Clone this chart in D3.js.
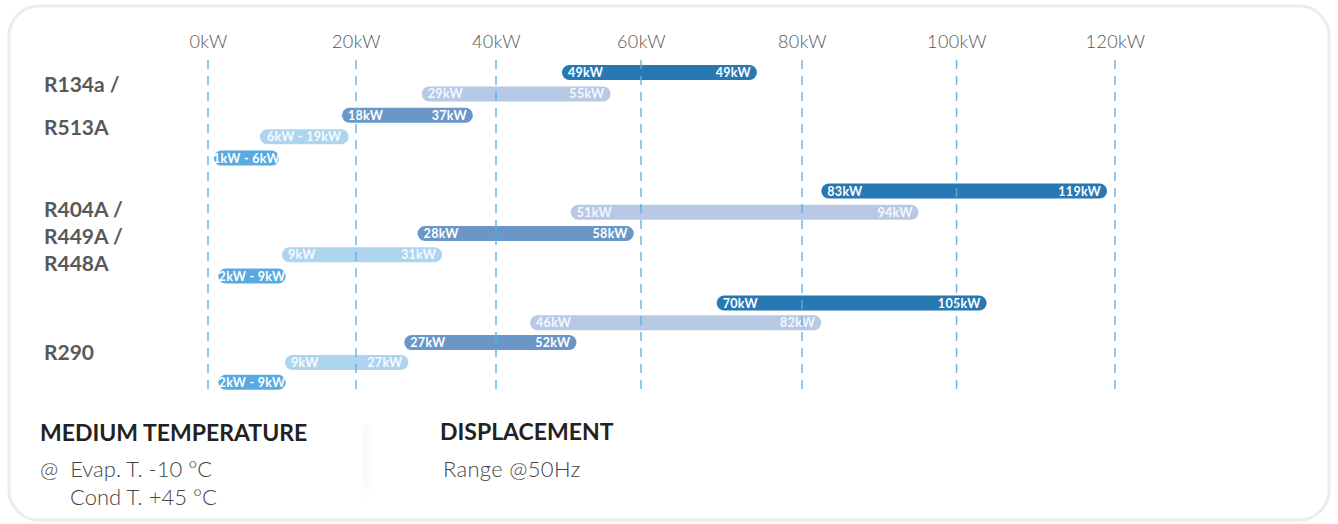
<!DOCTYPE html>
<html>
<head>
<meta charset="utf-8">
<script src="https://cdn.jsdelivr.net/npm/d3@7"></script>
<style>
  html, body { margin: 0; padding: 0; background: #ffffff; }
  svg { display: block; }
</style>
</head>
<body>
<svg id="chart" width="1338" height="524"></svg>
<script>
// ---------- DATA ----------
const tickValues = [0, 20, 40, 60, 80, 100, 120];
const tickLabels = ["0kW", "20kW", "40kW", "60kW", "80kW", "100kW", "120kW"];

const groupNames = ["R134a / R513A", "R404A / R449A / R448A", "R290"];
const groupLabelLines = [["R134a /", "R513A"], ["R404A /", "R449A /", "R448A"], ["R290"]];

// bar extents (kW, read against the axis)
const r134aStart = [49.1, 29.4, 18.1, 7.0, 0.8];
const r134aEnd   = [74.4, 55.8, 36.7, 19.0, 9.6];
const r134aText  = [["49kW", "49kW"], ["29kW", "55kW"], ["18kW", "37kW"], ["6kW - 19kW"], ["1kW - 6kW"]];

const r404aStart = [82.5, 50.3, 28.8, 10.0, 1.4];
const r404aEnd   = [119.0, 95.1, 59.0, 32.3, 10.5];
const r404aText  = [["83kW", "119kW"], ["51kW", "94kW"], ["28kW", "58kW"], ["9kW", "31kW"], ["2kW - 9kW"]];

const r290Start = [69.4, 44.7, 26.9, 10.4, 1.4];
const r290End   = [103.8, 82.5, 51.1, 27.5, 10.5];
const r290Text  = [["70kW", "105kW"], ["46kW", "82kW"], ["27kW", "52kW"], ["9kW", "27kW"], ["2kW - 9kW"]];

const noteTitle1 = "MEDIUM TEMPERATURE";
const noteLines1 = ["@  Evap. T. -10 °C", "Cond T. +45 °C"];
const noteTitle2 = "DISPLACEMENT";
const noteLines2 = ["Range @50Hz"];

// ---------- STYLE / LAYOUT ----------
const tierColors = ["#2878b4", "#b8c9e6", "#6b97c8", "#aed5f0", "#58aae1"];
const tierText   = ["#ffffff", "#f4f7fc", "#ffffff", "#f6fbff", "#ffffff"];
const groupRow0 = [72.5, 191, 303];
const groupStep = [21.4, 21.25, 19.8];
const labelFirst = [84, 209, 352];
const labelLead = [43.5, 27, 0];

const starts = [r134aStart, r404aStart, r290Start];
const ends = [r134aEnd, r404aEnd, r290End];
const texts = [r134aText, r404aText, r290Text];

const bars = [];
groupNames.forEach((g, gi) => {
  starts[gi].forEach((s, ti) => {
    bars.push({ group: g, gi, tier: ti, start: s, end: ends[gi][ti], text: texts[gi][ti] });
  });
});

const svg = d3.select("#chart");
const FONT = "Lato, 'Open Sans', 'DejaVu Sans', sans-serif";

// card
svg.append("rect")
  .attr("x", 9).attr("y", 6).attr("width", 1320).attr("height", 514)
  .attr("rx", 30).attr("ry", 30)
  .attr("fill", "#ffffff").attr("stroke", "#ececec").attr("stroke-width", 3);

const x = d3.scaleLinear()
  .domain(tickValues)
  .range([208, 356, 496, 641, 802, 956.5, 1115]);

const yCenter = d => groupRow0[d.gi] + d.tier * groupStep[d.gi];
const barH = 15;

// axis labels
const axis = d3.axisTop(x)
  .tickValues(tickValues)
  .tickFormat((d, i) => tickLabels[i])
  .tickSize(0)
  .tickPadding(0);
const axisG = svg.append("g").attr("transform", "translate(0,48)").call(axis);
axisG.select(".domain").remove();
axisG.selectAll("text")
  .attr("font-family", FONT).attr("font-weight", 300)
  .attr("font-size", 18).attr("fill", "#555555")
  .attr("letter-spacing", 0.4)
  .attr("dy", 0);

// bars
const barG = svg.append("g");
barG.selectAll("rect.bar").data(bars).join("rect")
  .attr("class", "bar")
  .attr("x", d => x(d.start))
  .attr("y", d => yCenter(d) - barH / 2)
  .attr("width", d => x(d.end) - x(d.start))
  .attr("height", barH)
  .attr("rx", barH / 2).attr("ry", barH / 2)
  .attr("fill", d => tierColors[d.tier]);

// bar labels
const pad = 6;
bars.forEach(d => {
  const yc = yCenter(d) + 4.5;
  const common = sel => sel.attr("font-family", FONT).attr("font-weight", 700)
    .attr("font-size", 12.5).attr("letter-spacing", 0.3).attr("fill", tierText[d.tier]);
  if (d.text.length === 2) {
    barG.append("text").attr("x", x(d.start) + pad).attr("y", yc)
      .attr("text-anchor", "start").text(d.text[0]).call(common);
    barG.append("text").attr("x", x(d.end) - pad).attr("y", yc)
      .attr("text-anchor", "end").text(d.text[1]).call(common);
  } else {
    barG.append("text").attr("x", (x(d.start) + x(d.end)) / 2).attr("y", yc)
      .attr("text-anchor", "middle").text(d.text[0]).call(common);
  }
});

// grid lines on top
svg.append("g").selectAll("line").data(tickValues).join("line")
  .attr("x1", d => x(d)).attr("x2", d => x(d))
  .attr("y1", 60).attr("y2", 393)
  .attr("stroke", "#5ab0e2").attr("stroke-width", 1.5)
  .attr("stroke-dasharray", "9,7")
  .attr("opacity", 0.9);

// group labels
groupLabelLines.forEach((lines, gi) => {
  lines.forEach((ln, li) => {
    svg.append("text")
      .attr("x", 44).attr("y", labelFirst[gi] + li * labelLead[gi] + 7.5)
      .attr("font-family", FONT).attr("font-weight", 700)
      .attr("font-size", 21).attr("fill", "#595959")
      .text(ln);
  });
});

// bottom notes
const defs = svg.append("defs");
const grad = defs.append("linearGradient").attr("id", "shadow").attr("x1", "0").attr("x2", "1");
grad.append("stop").attr("offset", "0%").attr("stop-color", "#000").attr("stop-opacity", 0);
grad.append("stop").attr("offset", "45%").attr("stop-color", "#000").attr("stop-opacity", 0.025);
grad.append("stop").attr("offset", "100%").attr("stop-color", "#000").attr("stop-opacity", 0);
const gradV = defs.append("linearGradient").attr("id", "fadeV").attr("x1", "0").attr("x2", "0").attr("y1", "0").attr("y2", "1");
gradV.append("stop").attr("offset", "0%").attr("stop-color", "#fff").attr("stop-opacity", 1);
gradV.append("stop").attr("offset", "25%").attr("stop-color", "#fff").attr("stop-opacity", 1);
gradV.append("stop").attr("offset", "75%").attr("stop-color", "#fff").attr("stop-opacity", 1);
gradV.append("stop").attr("offset", "100%").attr("stop-color", "#fff").attr("stop-opacity", 0);
const mask = defs.append("mask").attr("id", "shadowMask");
mask.append("rect").attr("x", 358).attr("y", 425).attr("width", 16).attr("height", 76).attr("fill", "url(#fadeV)");
svg.append("rect").attr("x", 358).attr("y", 425).attr("width", 16).attr("height", 76)
  .attr("fill", "url(#shadow)").attr("mask", "url(#shadowMask)");

svg.append("text").attr("x", 40).attr("y", 441)
  .attr("font-family", FONT).attr("font-weight", 700).attr("font-size", 23)
  .attr("fill", "#222222").text(noteTitle1);
svg.append("text").attr("x", 440).attr("y", 440)
  .attr("font-family", FONT).attr("font-weight", 700).attr("font-size", 23)
  .attr("fill", "#222222").text(noteTitle2);

svg.append("text").attr("x", 40).attr("y", 477)
  .attr("font-family", FONT).attr("font-weight", 300).attr("font-size", 22)
  .attr("fill", "#444444").attr("xml:space", "preserve").style("white-space", "pre").text(noteLines1[0]);
svg.append("text").attr("x", 70).attr("y", 505)
  .attr("font-family", FONT).attr("font-weight", 300).attr("font-size", 22)
  .attr("fill", "#444444").text(noteLines1[1]);
svg.append("text").attr("x", 443).attr("y", 477)
  .attr("font-family", FONT).attr("font-weight", 300).attr("font-size", 22)
  .attr("fill", "#444444").attr("letter-spacing", 0.3).text(noteLines2[0]);
</script>
</body>
</html>
